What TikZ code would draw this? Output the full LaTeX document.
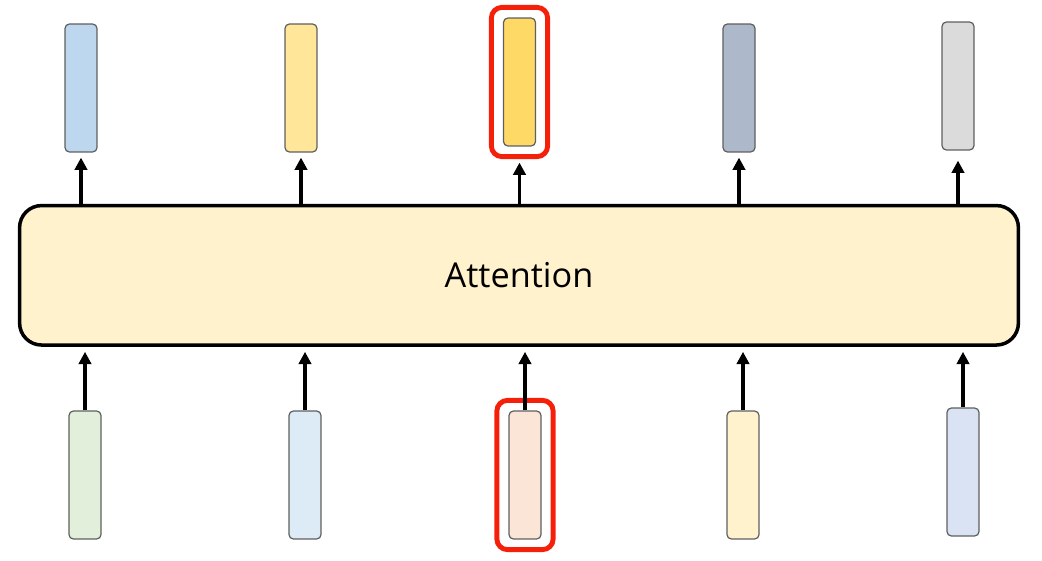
\documentclass[tikz,border=0pt]{standalone}
\usepackage{fontspec}
\setmainfont{Open Sans}
\usetikzlibrary{fit,arrows.meta}
\definecolor{attnfill}{HTML}{FFF2CC}
\definecolor{pickred}{HTML}{F5200A}
\definecolor{vecline}{HTML}{5F5F5F}
\definecolor{outa}{HTML}{BDD7EE}
\definecolor{outb}{HTML}{FFE699}
\definecolor{outc}{HTML}{FFD966}
\definecolor{outd}{HTML}{ADB9CA}
\definecolor{oute}{HTML}{DBDBDB}
\definecolor{ina}{HTML}{E2EFDA}
\definecolor{inb}{HTML}{DDEBF7}
\definecolor{inc}{HTML}{FBE5D6}
\definecolor{ind}{HTML}{FFF2CC}
\definecolor{ine}{HTML}{DAE3F3}

\begin{document}
\begin{tikzpicture}
  [x=0.02cm,y=-0.02cm,
   vec/.style={rectangle,draw=vecline,line width=0.7pt,rounded corners=2.5pt,
     inner sep=0pt,minimum width=0.64cm,minimum height=2.56cm},
   pick/.style={rectangle,draw=pickred,line width=2.8pt,rounded corners=6pt,
     inner xsep=0.23cm,inner ysep=0.2cm},
   arr/.style={-{Triangle[width=7pt,length=7pt]},line width=2pt}]
  \useasboundingbox (0,0) rectangle (1042,561);

  \node[draw,line width=2pt,rounded corners=0.44cm,fill=attnfill,
    minimum width=19.98cm,minimum height=2.79cm,inner sep=0pt,
    font=\fontsize{19.5}{23}\selectfont] (attn) at (519,275.3) {Attention};

  % outputs
  \node[vec,fill=outa] (t1) at (81,88)  {};
  \node[vec,fill=outb] (t2) at (301,88) {};
  \node[vec,fill=outc] (t3) at (519.5,82) {};
  \node[vec,fill=outd] (t4) at (739,88) {};
  \node[vec,fill=oute] (t5) at (958,86) {};

  % inputs
  \node[vec,fill=ina] (b1) at (85,475)  {};
  \node[vec,fill=inb] (b2) at (305,475) {};
  \node[vec,fill=inc] (b3) at (525,475) {};
  \node[vec,fill=ind] (b4) at (743,475) {};
  \node[vec,fill=ine] (b5) at (963,472) {};

  \node[pick,fit=(t3)] (fr3) {};
  \node[pick,fit=(b3)] (fr8) {};

  \foreach \v/\s in {t1/0.1,t2/0.1,fr3/0.07,t4/0.1,t5/0.2}
    \draw[arr,shorten >=\s cm] (attn.north -| \v.south) -- (\v.south);
  \foreach \v in {b1,b2,b3,b4,b5}
    \draw[arr,shorten >=0.1cm] (\v.north) -- (attn.south -| \v.north);

\end{tikzpicture}
\end{document}
